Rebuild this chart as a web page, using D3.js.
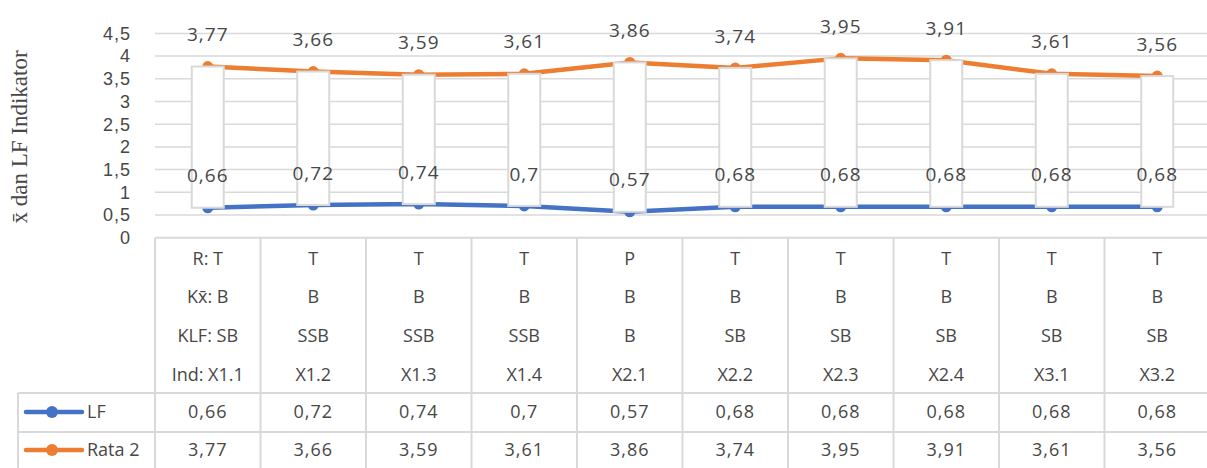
<!DOCTYPE html>
<html>
<head>
<meta charset="utf-8">
<script src="https://cdn.jsdelivr.net/npm/d3@7"></script>
<style>
  html, body { margin: 0; padding: 0; background: #fff; overflow: hidden; }
  text { font-family: "Open Sans", sans-serif; fill: #474747; }
</style>
</head>
<body>
<div id="root"></div>
<script>
const indikator = ["X1.1", "X1.2", "X1.3", "X1.4", "X2.1", "X2.2", "X2.3", "X2.4", "X3.1", "X3.2"];
const kategoriR = ["T", "T", "T", "T", "P", "T", "T", "T", "T", "T"];
const kategoriKx = ["B", "B", "B", "B", "B", "B", "B", "B", "B", "B"];
const kategoriKLF = ["SB", "SSB", "SSB", "SSB", "B", "SB", "SB", "SB", "SB", "SB"];
const lf = [0.66, 0.72, 0.74, 0.7, 0.57, 0.68, 0.68, 0.68, 0.68, 0.68];
const rata2 = [3.77, 3.66, 3.59, 3.61, 3.86, 3.74, 3.95, 3.91, 3.61, 3.56];
const yTicks = [0, 0.5, 1, 1.5, 2, 2.5, 3, 3.5, 4, 4.5];

const width = 1207;
const height = 468;
const grid = "#d9d9d9";
const blue = "#4472c4";
const orange = "#ed7d31";
const fmt = v => String(v).replace(".", ",");

const x = d3.scaleBand(indikator, [155, 1210]);
const y = d3.scaleLinear([0, 4.5], [237.7, 33.4]);

const svg = d3.select("#root").append("svg")
  .attr("width", width)
  .attr("height", height);

// gridlines
svg.append("g")
  .selectAll("line")
  .data(yTicks.filter(d => d > 0))
  .join("line")
  .attr("x1", 155)
  .attr("x2", width)
  .attr("y1", d => y(d))
  .attr("y2", d => y(d))
  .attr("stroke", grid)
  .attr("stroke-width", 1.5);

// y tick labels
svg.append("g")
  .selectAll("text")
  .data(yTicks)
  .join("text")
  .attr("x", 131)
  .attr("y", d => y(d))
  .attr("dy", "0.35em")
  .attr("text-anchor", "end")
  .style("font-family", "'Liberation Sans', sans-serif")
  .attr("font-size", 18)
  .attr("letter-spacing", 1)
  .text(fmt);

// y title
svg.append("text")
  .attr("transform", "translate(27,137) rotate(-90)")
  .attr("text-anchor", "middle")
  .style("font-family", "'Liberation Serif', serif")
  .attr("font-size", 23)
  .text("x̄ dan LF Indikator");

const cx = d => x(d) + x.bandwidth() / 2;

// series lines + markers
const series = [
  { name: "LF", values: lf, color: blue },
  { name: "Rata 2", values: rata2, color: orange },
];

const line = d3.line()
  .x(d => cx(d[0]))
  .y(d => y(d[1]));

series.forEach(s => {
  const pts = indikator.map((c, i) => [c, s.values[i]]);
  svg.append("path")
    .datum(pts)
    .attr("fill", "none")
    .attr("stroke", s.color)
    .attr("stroke-width", 4.5)
    .attr("stroke-linejoin", "round")
    .attr("d", line);
  svg.append("g")
    .selectAll("circle")
    .data(pts)
    .join("circle")
    .attr("cx", d => cx(d[0]))
    .attr("cy", d => y(d[1]))
    .attr("r", 5.5)
    .attr("fill", s.color);
});

// up/down bars
const barW = 32;
svg.append("g")
  .selectAll("rect")
  .data(indikator)
  .join("rect")
  .attr("x", d => cx(d) - barW / 2)
  .attr("width", barW)
  .attr("y", (d, i) => y(Math.max(lf[i], rata2[i])))
  .attr("height", (d, i) => Math.abs(y(lf[i]) - y(rata2[i])))
  .attr("fill", "#fff")
  .attr("stroke", grid)
  .attr("stroke-width", 2);

// data labels
series.forEach(s => {
  svg.append("g")
    .selectAll("text")
    .data(indikator)
    .join("text")
    .attr("x", d => cx(d))
    .attr("y", (d, i) => y(s.values[i]) - 32)
    .attr("dy", "0.35em")
    .attr("text-anchor", "middle")
    .attr("font-size", 19)
    .attr("letter-spacing", 1)
    .text((d, i) => fmt(s.values[i]));
});

// data table
const tableTop = y(0);
const row1 = 393;
const row2 = 432;
const tableBottom = 472;
const tbl = svg.append("g")
  .attr("stroke", grid)
  .attr("stroke-width", 2);

tbl.append("line").attr("x1", 155).attr("x2", width).attr("y1", tableTop).attr("y2", tableTop);
[row1, row2].forEach(ry => {
  tbl.append("line").attr("x1", 18).attr("x2", width).attr("y1", ry).attr("y2", ry);
});
tbl.append("line").attr("x1", 18).attr("x2", 18).attr("y1", row1).attr("y2", tableBottom);
tbl.selectAll("line.v")
  .data(indikator)
  .join("line")
  .attr("class", "v")
  .attr("x1", d => x(d))
  .attr("x2", d => x(d))
  .attr("y1", tableTop)
  .attr("y2", tableBottom);

// category rows
const catLines = [
  { vals: kategoriR, prefix: "R: ", y: 259 },
  { vals: kategoriKx, prefix: "Kx̄: ", y: 297 },
  { vals: kategoriKLF, prefix: "KLF: ", y: 336 },
  { vals: indikator, prefix: "Ind: ", y: 375 },
];
catLines.forEach(r => {
  svg.append("g")
    .selectAll("text")
    .data(indikator)
    .join("text")
    .attr("x", d => cx(d))
    .attr("y", r.y)
    .attr("dy", "0.35em")
    .attr("text-anchor", "middle")
    .attr("font-size", 18)
    .text((d, i) => (i === 0 ? r.prefix : "") + r.vals[i]);
});

// value rows with legend keys
const rows = [
  { s: series[0], y: 412 },
  { s: series[1], y: 450 },
];
rows.forEach(r => {
  svg.append("g")
    .selectAll("text")
    .data(indikator)
    .join("text")
    .attr("x", d => cx(d))
    .attr("y", r.y)
    .attr("dy", "0.35em")
    .attr("text-anchor", "middle")
    .attr("font-size", 18)
    .attr("letter-spacing", 1)
    .text((d, i) => fmt(r.s.values[i]));

  svg.append("line")
    .attr("x1", 26).attr("x2", 82)
    .attr("y1", r.y).attr("y2", r.y)
    .attr("stroke", r.s.color)
    .attr("stroke-width", 4.5)
    .attr("stroke-linecap", "round");
  svg.append("circle")
    .attr("cx", 52).attr("cy", r.y).attr("r", 6)
    .attr("fill", r.s.color);
  svg.append("text")
    .attr("x", 87).attr("y", r.y)
    .attr("dy", "0.35em")
    .attr("font-size", 18)
    .text(r.s.name);
});
</script>
</body>
</html>
